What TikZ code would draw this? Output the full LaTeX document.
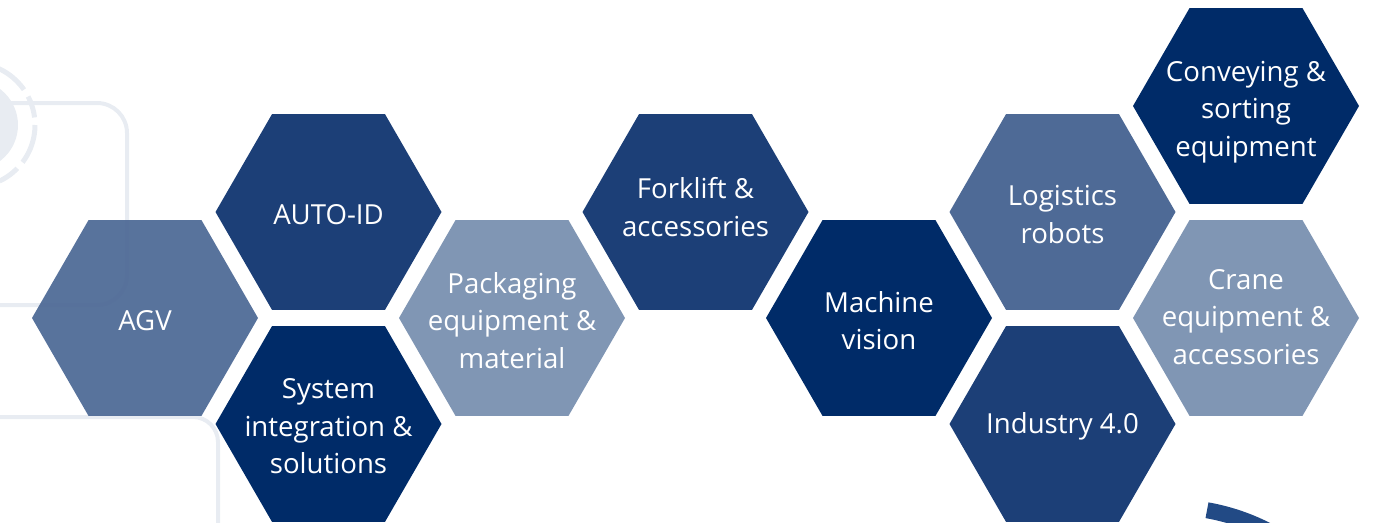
\documentclass[tikz,border=0pt]{standalone}
\usepackage{fontspec}
\setmainfont{Open Sans}
\usetikzlibrary{shapes.geometric}
\definecolor{hexmed}{HTML}{4E6A96}
\definecolor{hexmid}{HTML}{1C3F77}
\definecolor{hexdark}{HTML}{002B68}
\definecolor{hexlight}{HTML}{8096B4}
\definecolor{bgline}{HTML}{E8ECF2}
\definecolor{arcblue}{HTML}{224A85}
\tikzset{
  hexcell/.style={regular polygon, regular polygon sides=6, minimum size=226pt, inner sep=0pt, outer sep=0pt, draw=none},
  hextext/.style={text=white, align=center, font=\fontsize{27.6}{37.5}\selectfont, inner sep=0pt, yshift=-2.5pt},
  bgstroke/.style={draw=bgline, line width=4pt},
}
\begin{document}
\begin{tikzpicture}[x=1pt,y=-1pt]
\useasboundingbox (0,0) rectangle (1373,522);
\clip (0,0) rectangle (1373,522);
% background decoration
\fill[bgline] (-27,125) circle[radius=45];
\draw[bgline, line width=5pt, dash pattern=on 40pt off 8pt on 22pt off 8pt] (-27,125) circle[radius=62];
\draw[bgstroke, rounded corners=30pt] (-60,103) -- (127,103) -- (127,305) -- (-60,305);
\draw[bgstroke, rounded corners=25pt] (-60,560) -- (-60,417) -- (218,417) -- (218,560);
% hexagons
\node[hexcell, fill=hexmed, fill opacity=0.94, label={[hextext]center:AGV}] (agv) at (145,318) {};
\node[hexcell, fill=hexmid, label={[hextext]center:AUTO-ID}] (autoid) at (328.5,212) {};
\node[hexcell, fill=hexdark, label={[hextext]center:System\\integration \&\\solutions}] (sysint) at (328.5,424) {};
\node[hexcell, fill=hexlight, label={[hextext]center:Packaging\\equipment \&\\material}] (pack) at (512,318) {};
\node[hexcell, fill=hexmid, label={[hextext, yshift=7.5pt]center:Forklift \&\\accessories}] (fork) at (695.5,212) {};
\node[hexcell, fill=hexdark, label={[hextext]center:Machine\\vision}] (vision) at (879,318) {};
\node[hexcell, fill=hexmed, label={[hextext]center:Logistics\\robots}] (robots) at (1062.5,212) {};
\node[hexcell, fill=hexmid, label={[hextext]center:Industry 4.0}] (ind) at (1062.5,424) {};
\node[hexcell, fill=hexdark, label={[hextext, yshift=-3.5pt]center:Conveying \&\\sorting\\equipment}] (convey) at (1246,106) {};
\node[hexcell, fill=hexlight, label={[hextext, yshift=3.5pt]center:Crane\\equipment \&\\accessories}] (crane) at (1246,318) {};
% bottom-right arc
\coordinate (arcc) at (1170,720);
\draw[arcblue, line width=16pt] (arcc) ++(-80:213) arc[start angle=-80, end angle=-40, radius=213];
\end{tikzpicture}
\end{document}
